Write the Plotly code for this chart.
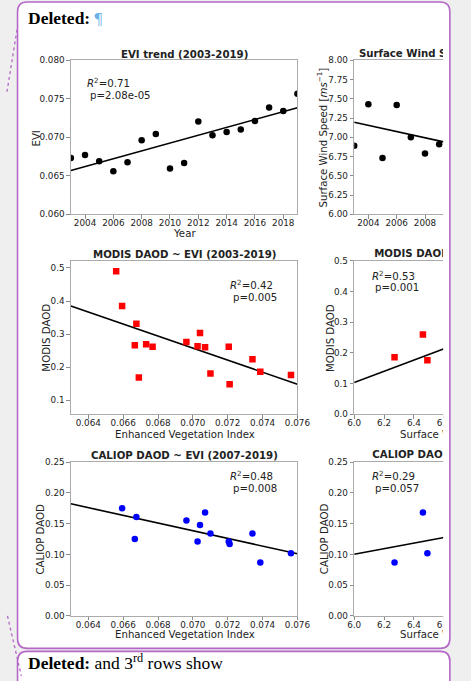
import numpy as np
import plotly.graph_objects as go

W, H = 471, 681

# ---- data -------------------------------------------------------------
years = list(range(2003, 2020))
evi = [0.06732, 0.06769, 0.06690, 0.06560, 0.06676, 0.06963, 0.07041, 0.06594, 0.06667,
       0.07206, 0.07027, 0.07070, 0.07101, 0.07211, 0.07387, 0.07342, 0.07563]
modis_daod = [0.269, 0.262, 0.169, 0.490, 0.331, 0.276, 0.303, 0.385, 0.266,
              0.262, 0.263, 0.260, 0.181, 0.148, 0.186, 0.224, 0.176]

caliop_years = list(range(2007, 2020))
caliop_daod = [0.161, 0.155, 0.148, 0.175, 0.125, 0.121, 0.121, 0.168, 0.134,
               0.117, 0.087, 0.134, 0.102]

wind_years = [2003, 2004, 2005, 2006, 2007, 2008, 2009]
wind_speed = [6.89, 7.43, 6.73, 7.42, 7.00, 6.79, 6.91]

wind_pair = [6.27, 6.46, 6.49]
modis_pair = [0.186, 0.260, 0.176]
caliop_pair = [0.087, 0.168, 0.102]

# fitted trend lines of the wind column: (x at start, y at start, slope)
wind_trend = (2003.0, 7.194, -0.0402)
modis_wind_trend = (6.0, 0.1038, 0.1825)
caliop_wind_trend = (6.0, 0.1004, 0.0451)

stats_text = {
    1: ("0.71", "2.08e-05"),
    3: ("0.42", "0.005"),
    5: ("0.48", "0.008"),
    4: ("0.53", "0.001"),
    6: ("0.29", "0.057"),
}

# ---- styling -----------------------------------------------------------
INK = "#222222"
SPINE = "#ababab"
TICKC = "#8c8c8c"
PURPLE = "rgb(180,104,198)"
PAGE = "#efefef"
FONT = "DejaVu Sans"
SERIF = "Liberation Serif"
CUT_X = 455.5          # right edge where the wide figure is cut off


def fx(p):
    return p / W


def fy(p):
    return 1 - p / H


# panel frames in page pixels
col_x = [(66.7, 303.3), (362.6, 462.0)]
row_y = [(56.0, 212.5), (259.5, 415.5), (464.0, 620.0)]

fig = go.Figure()


def axis_ids(r, c):
    n = r * 2 + c + 1
    s = "" if n == 1 else str(n)
    return "x" + s, "y" + s, "xaxis" + s, "yaxis" + s


def ticks(vals, fmt):
    return dict(tickmode="array", tickvals=vals, ticktext=[fmt.format(v) for v in vals])


def base_axis():
    return dict(showline=True, linecolor=SPINE, linewidth=1, ticks="outside", ticklen=3.5,
                tickwidth=1, tickcolor=TICKC, showgrid=False, zeroline=False,
                tickfont=dict(family=FONT, size=8.8, color=INK), fixedrange=True)


xranges = {
    (0, 0): [2003, 2019], (1, 0): [0.063, 0.076], (2, 0): [0.063, 0.076],
    (0, 1): [2003, 2003 + 99.4 / 14.79], (1, 1): [6.0, 6.0 + 99.4 / 156.0],
    (2, 1): [6.0, 6.0 + 99.4 / 156.0],
}
yranges = {
    (0, 0): [0.060, 0.080], (1, 0): [0.057, 0.522], (2, 0): [0.0, 0.25],
    (0, 1): [6.0, 8.0], (1, 1): [0.0, 0.5], (2, 1): [0.0, 0.25],
}
evi_ticks = [0.064, 0.066, 0.068, 0.070, 0.072, 0.074, 0.076]
xticks = {
    (0, 0): ticks(list(range(2004, 2019, 2)), "{}"),
    (1, 0): ticks(evi_ticks, "{:.3f}"), (2, 0): ticks(evi_ticks, "{:.3f}"),
    (0, 1): ticks(list(range(2004, 2019, 2)), "{}"),
    (1, 1): ticks([6.0, 6.2, 6.4, 6.6, 6.8, 7.0], "{:.1f}"),
    (2, 1): ticks([6.0, 6.2, 6.4, 6.6, 6.8, 7.0], "{:.1f}"),
}
yticks = {
    (0, 0): ticks([0.060, 0.065, 0.070, 0.075, 0.080], "{:.3f}"),
    (1, 0): ticks([0.1, 0.2, 0.3, 0.4, 0.5], "{:.1f}"),
    (2, 0): ticks([0.0, 0.05, 0.10, 0.15, 0.20, 0.25], "{:.2f}"),
    (0, 1): ticks([6.0 + 0.25 * i for i in range(9)], "{:.2f}"),
    (1, 1): ticks([0.0, 0.1, 0.2, 0.3, 0.4, 0.5], "{:.1f}"),
    (2, 1): ticks([0.0, 0.05, 0.10, 0.15, 0.20, 0.25], "{:.2f}"),
}

layout_axes = {}
for r in range(3):
    for c in range(2):
        xa, ya, xk, yk = axis_ids(r, c)
        x0, x1 = col_x[c]
        y0, y1 = row_y[r]
        ax = base_axis()
        ax.update(domain=[fx(x0), fx(x1)], range=xranges[(r, c)], anchor=ya, mirror=True,
                  ticklabelstandoff=-3, **xticks[(r, c)])
        ay = base_axis()
        ay.update(domain=[fy(y1), fy(y0)], range=yranges[(r, c)], anchor=xa,
                  mirror=(c == 0), ticklabelstandoff=0, **yticks[(r, c)])
        layout_axes[xk] = ax
        layout_axes[yk] = ay

# page axis in pixel units, ending at the cut; text on it is clipped there
layout_axes["xaxis7"] = dict(domain=[0, fx(CUT_X)], range=[0, CUT_X], anchor="y7",
                             visible=False, fixedrange=True)
layout_axes["yaxis7"] = dict(domain=[0, 1], range=[H, 0], anchor="x7", visible=False,
                             fixedrange=True)


def add_points(r, c, x, y, color, symbol):
    xa, ya, _, _ = axis_ids(r, c)
    fig.add_trace(go.Scatter(x=x, y=y, mode="markers", xaxis=xa, yaxis=ya,
                             marker=dict(color=color, size=6.5, symbol=symbol, line=dict(width=0)),
                             showlegend=False, hoverinfo="skip"))


def add_line(r, c, xs, ys):
    xa, ya, _, _ = axis_ids(r, c)
    fig.add_trace(go.Scatter(x=xs, y=ys, mode="lines", xaxis=xa, yaxis=ya,
                             line=dict(color="black", width=1.6),
                             showlegend=False, hoverinfo="skip"))


def fit_line(r, c, x, y):
    k, b = np.polyfit(np.asarray(x, float), np.asarray(y, float), 1)
    xs = np.array(xranges[(r, c)], float)
    add_line(r, c, xs, k * xs + b)


def trend_line(r, c, trend):
    x0, y0, k = trend
    xs = np.array(xranges[(r, c)], float)
    add_line(r, c, xs, y0 + k * (xs - x0))


evi_by_year = dict(zip(years, evi))
caliop_evi = [evi_by_year[yy] for yy in caliop_years]

# left column
fit_line(0, 0, years, evi)
add_points(0, 0, years, evi, "black", "circle")
fit_line(1, 0, evi, modis_daod)
add_points(1, 0, evi, modis_daod, "red", "square")
fit_line(2, 0, caliop_evi, caliop_daod)
add_points(2, 0, caliop_evi, caliop_daod, "blue", "circle")

# right column
trend_line(0, 1, wind_trend)
add_points(0, 1, wind_years, wind_speed, "black", "circle")
trend_line(1, 1, modis_wind_trend)
add_points(1, 1, wind_pair, modis_pair, "red", "square")
trend_line(2, 1, caliop_wind_trend)
add_points(2, 1, wind_pair, caliop_pair, "blue", "circle")


def cut_text(t, x, y, bold=False):
    """Left-aligned text on the page axis; the cut hides its tail."""
    fig.add_trace(go.Scatter(x=[x], y=[y], mode="text", text=[t], textposition="middle right",
                             xaxis="x7", yaxis="y7", cliponaxis=True,
                             marker=dict(size=0.1),
                             textfont=dict(family=FONT, size=10.2, color=INK,
                                           weight="bold" if bold else "normal"),
                             showlegend=False, hoverinfo="skip"))


cut_text("Surface Wind Speed", 367.5, 50, bold=True)
cut_text("MODIS DAOD", 383.5, 253, bold=True)
cut_text("CALIOP DAOD", 381.5, 457, bold=True)
cut_text("Surface Wind Speed", 410.5, 437)
cut_text("Surface Wind Speed", 410.5, 640)

# ---- text ---------------------------------------------------------------
annotations = []


def text(t, x, y, size=10.2, xanchor="center", yanchor="middle", angle=0, bold=False,
         family=FONT, color=INK, align="center"):
    annotations.append(dict(text=t, x=fx(x), y=fy(y), xref="paper", yref="paper",
                            showarrow=False, xanchor=xanchor, yanchor=yanchor,
                            textangle=angle, align=align,
                            font=dict(family=family, size=size, color=color,
                                      weight="bold" if bold else "normal")))


# panel titles
text("EVI trend (2003-2019)", 185.5, 50, bold=True)
text("MODIS DAOD ~ EVI (2003-2019)", 185.5, 253, bold=True)
text("CALIOP DAOD ~ EVI (2007-2019)", 185.5, 457, bold=True)

# axis titles
text("Year", 185.5, 232)
text("Enhanced Vegetation Index", 185.5, 435.5)
text("Enhanced Vegetation Index", 185.5, 638.5)
text("EVI", 29.8, 136, angle=-90)
text("MODIS DAOD", 40.3, 338, angle=-90)
text("CALIOP DAOD", 35.0, 542, angle=-90)
text("Surface Wind Speed [<i>ms</i><sup>−1</sup>]", 328.4, 134, angle=-90)
text("MODIS DAOD", 337.3, 338, angle=-90)
text("CALIOP DAOD", 331.2, 542, angle=-90)

# regression statistics (first line carries a superscript, hence the lift)
stat_pos = {1: (81.7, 78.8), 3: (231.0, 283.5), 5: (231.0, 477.5), 4: (378.7, 274.2),
            6: (378.7, 477.5)}
for key, (r2, p) in stats_text.items():
    sx, sy = stat_pos[key]
    text("<i>R</i><sup>2</sup>=" + r2, sx, sy, xanchor="left")
    text("p=" + p, sx + 3.4, sy + 13.0, xanchor="left")

# comment balloon headers
text("<b>Deleted:</b> <span style='color:#6cb2e8'>¶</span>", 20, 13, size=17.5,
     xanchor="left", family=SERIF, color="black")
text("<b>Deleted:</b> and 3<sup>rd</sup> rows show", 20, 667, size=17.5,
     xanchor="left", family=SERIF, color="black")


# ---- balloon frames -------------------------------------------------------
def P(x, y):
    return f"{fx(x):.5f},{fy(y):.5f}"


def rounded(l, t, rgt, b, rad):
    return (f"M {P(l + rad, t)} L {P(rgt - rad, t)} Q {P(rgt, t)} {P(rgt, t + rad)} "
            f"L {P(rgt, b - rad)} Q {P(rgt, b)} {P(rgt - rad, b)} L {P(l + rad, b)} "
            f"Q {P(l, b)} {P(l, b - rad)} L {P(l, t + rad)} Q {P(l, t)} {P(l + rad, t)} Z")


balloons = [(11.0, -3.0, 462.5, 653.0), (11.0, 656.0, 462.5, 710.0)]
shapes = []
for l, t, rgt, b in balloons:
    shapes.append(dict(type="path", path=rounded(l, t, rgt, b, 10), xref="paper", yref="paper",
                       fillcolor="white", line=dict(width=0), layer="below"))
# the right column is cut off at the balloon padding
shapes.append(dict(type="rect", xref="paper", yref="paper", x0=fx(CUT_X), x1=fx(463),
                   y0=fy(648), y1=fy(20), fillcolor="white", line=dict(width=0), layer="above"))
shapes.append(dict(type="rect", xref="paper", yref="paper", x0=fx(463), x1=1,
                   y0=0, y1=1, fillcolor=PAGE, line=dict(width=0), layer="above"))
for l, t, rgt, b in balloons:
    shapes.append(dict(type="path", path=rounded(l, t, rgt, b, 10), xref="paper", yref="paper",
                       fillcolor="rgba(0,0,0,0)", line=dict(color=PURPLE, width=1.6),
                       layer="above"))
# dotted connectors in the margin
for (xa, ya), (xb, yb) in [((10.5, 25), (0, 88)), ((0.5, 620), (15, 681))]:
    shapes.append(dict(type="line", xref="paper", yref="paper", x0=fx(xa), y0=fy(ya),
                       x1=fx(xb), y1=fy(yb), line=dict(color=PURPLE, width=1.3, dash="dot"),
                       layer="above"))

fig.update_layout(
    width=W, height=H, margin=dict(l=0, r=0, t=0, b=0),
    paper_bgcolor=PAGE, plot_bgcolor="rgba(0,0,0,0)",
    showlegend=False, annotations=annotations, shapes=shapes,
    font=dict(family=FONT, color=INK),
    **layout_axes,
)

fig.write_html("out.html", config={"displayModeBar": False})
